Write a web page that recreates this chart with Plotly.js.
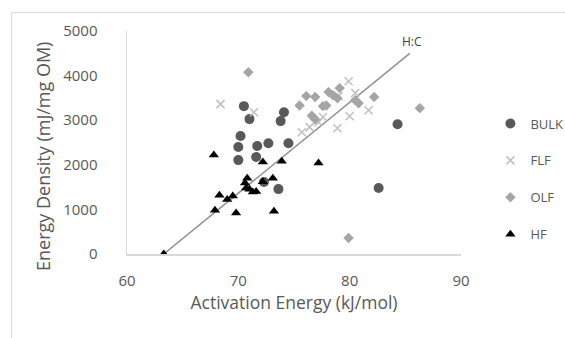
<!DOCTYPE html>
<html>
<head>
<meta charset="utf-8">
<script src="https://cdn.plot.ly/plotly-3.0.1.min.js"></script>
<style>
  body { margin: 0; background: #fff; }
  #frame { position: absolute; left: 11px; top: 12px; width: 600px; height: 400px; border: 1px solid #d9d9d9; }
  #chart { position: absolute; left: 0; top: 0; width: 565px; height: 338px; }
</style>
</head>
<body>
<div id="frame"></div>
<div id="chart"></div>
<script>
// BULK
const bulkX = [70.5, 71.0, 70.2, 70.0, 71.7, 72.7, 74.5, 70.0, 71.6, 72.3, 73.6, 74.1, 73.8, 82.6, 84.3];
const bulkY = [3315, 3025, 2645, 2400, 2420, 2485, 2485, 2105, 2175, 1615, 1455, 3180, 2980, 1480, 2910];
// FLF
const flfX = [68.4, 71.4, 79.9, 80.5, 81.7, 80.0, 78.9, 75.7, 76.4, 77.2, 77.6, 79.0];
const flfY = [3360, 3180, 3875, 3610, 3225, 3090, 2820, 2730, 2845, 2955, 3070, 3540];
// OLF
const olfX = [70.9, 75.5, 76.1, 76.9, 77.6, 77.9, 78.1, 78.5, 79.1, 78.9, 80.5, 80.8, 82.2, 76.9, 76.6, 86.3, 79.9];
const olfY = [4075, 3330, 3540, 3520, 3315, 3330, 3630, 3560, 3720, 3490, 3450, 3380, 3520, 3020, 3100, 3270, 360];
// HF
const hfX = [63.3, 67.8, 67.9, 68.3, 69.0, 69.5, 69.8, 70.6, 70.8, 70.7, 71.0, 71.3, 71.6, 72.2, 72.2, 73.1, 73.2, 73.9, 77.2];
const hfY = [0, 2220, 980, 1320, 1220, 1300, 920, 1590, 1700, 1480, 1450, 1390, 1400, 1620, 2060, 1700, 960, 2080, 2040];
// H:C line
const trendX = [63.3, 85.4];
const trendY = [0, 4500];
const xTicks = [60, 70, 80, 90];
const yTicks = [0, 1000, 2000, 3000, 4000, 5000];
const xTitle = 'Activation Energy (kJ/mol)';
const yTitle = 'Energy Density (mJ/mg OM)';

const font = {family: 'Open Sans, sans-serif', color: '#595959'};

const traces = [
  {x: trendX, y: trendY, mode: 'lines', line: {color: '#8f8f8f', width: 1.5}, showlegend: false, hoverinfo: 'skip'},
  {x: bulkX, y: bulkY, mode: 'markers', name: 'BULK', legendgroup: 'a',
   marker: {symbol: 'circle', size: 10, color: '#595959'}},
  {x: flfX, y: flfY, mode: 'markers', name: 'FLF', legendgroup: 'b',
   marker: {symbol: 'x-thin', size: 8, color: '#bfbfbf', line: {color: '#bfbfbf', width: 1.5}}},
  {x: olfX, y: olfY, mode: 'markers', name: 'OLF', legendgroup: 'c',
   marker: {symbol: 'diamond', size: 8, color: '#a5a5a5'}},
  {x: hfX, y: hfY, mode: 'markers', name: 'HF', legendgroup: 'd',
   marker: {symbol: 'triangle-up', size: 9, color: '#000000'}}
];

const layout = {
  width: 565, height: 338,
  margin: {l: 127, r: 104, t: 31, b: 84},
  paper_bgcolor: 'rgba(0,0,0,0)', plot_bgcolor: 'rgba(0,0,0,0)',
  font: font,
  showlegend: true,
  legend: {xref: 'container', yref: 'container', x: 0.868, xanchor: 'left', y: 1 - 179 / 338, yanchor: 'middle',
           tracegroupgap: 17, itemwidth: 30,
           font: {family: 'Open Sans, sans-serif', size: 13, color: '#595959'}},
  xaxis: {range: [60, 90], tickvals: xTicks, ticktext: xTicks.map(String), showgrid: false, zeroline: false,
          showline: true, linecolor: '#d9d9d9', linewidth: 1.5, ticks: '', ticklabelstandoff: 12,
          tickfont: {size: 15, color: '#595959'},
          title: {text: xTitle, font: {size: 17.5, color: '#595959'}, standoff: 8}},
  yaxis: {range: [0, 5000], tickvals: yTicks, ticktext: yTicks.map(String), showgrid: false, zeroline: false,
          showline: true, linecolor: '#d9d9d9', linewidth: 1.5, ticks: '', ticklabelstandoff: 25,
          tickfont: {size: 15, color: '#595959'}},
  annotations: [
    {x: 85.6, y: 4520, xref: 'x', yref: 'y', text: 'H:C', showarrow: false, yanchor: 'bottom',
     font: {family: 'Open Sans, sans-serif', size: 12, color: '#404040'}},
    {xref: 'paper', yref: 'paper', x: -(127 - 43) / 334, y: (254 - 157) / 223, text: yTitle, textangle: -90,
     showarrow: false, xanchor: 'center', yanchor: 'middle',
     font: {family: 'Open Sans, sans-serif', size: 18, color: '#595959'}}
  ]
};

Plotly.newPlot('chart', traces, layout, {displayModeBar: false, staticPlot: true});
</script>
</body>
</html>
